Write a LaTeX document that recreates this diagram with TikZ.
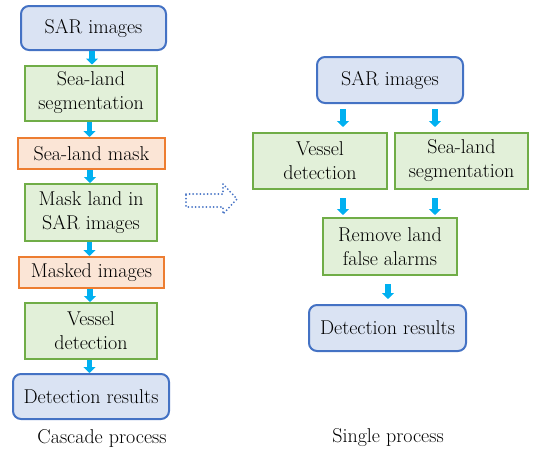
\documentclass[tikz,border=0pt]{standalone}
\usetikzlibrary{arrows.meta,calc}
\definecolor{bfill}{HTML}{DAE3F3}
\definecolor{bline}{HTML}{4472C4}
\definecolor{gfill}{HTML}{E2F0D9}
\definecolor{gline}{HTML}{70AD47}
\definecolor{ofill}{HTML}{FBE5D6}
\definecolor{oline}{HTML}{ED7D31}
\definecolor{arrcol}{HTML}{00B0F0}
\tikzset{
  box/.style={draw, line width=2pt, inner sep=0pt, align=center,
    font=\fontsize{20}{24}\selectfont, text=black},
  ends/.style={box, fill=bfill, draw=bline, rounded corners=8pt},
  stepbox/.style={box, fill=gfill, draw=gline},
  databox/.style={box, fill=ofill, draw=oline},
  flow/.style={draw=arrcol, line width=5.5pt,
    -{Triangle[width=12pt,length=6pt,fill=arrcol]}},
  caption/.style={font=\fontsize{20}{24}\selectfont}
}
\begin{document}
\begin{tikzpicture}[x=1pt,y=-1pt]
\useasboundingbox (0,0) rectangle (536,453);

% cascade process
\node[ends, minimum width=145pt, minimum height=44pt] (sar1) at (93.5,28) {SAR images};
\node[stepbox, minimum width=132pt, minimum height=55pt] (seg1) at (91,93) {Sea-land\\segmentation};
\node[databox, minimum width=147pt, minimum height=31pt] (mask1) at (91.5,153.5) {Sea-land mask};
\node[stepbox, minimum width=132pt, minimum height=57pt] (mland) at (91,212.5) {Mask land in\\SAR images};
\node[databox, minimum width=145pt, minimum height=31pt] (masked) at (91.5,272.5) {Masked images};
\node[stepbox, minimum width=132pt, minimum height=56pt] (ves1) at (91,331) {Vessel\\detection};
\node[ends, minimum width=156pt, minimum height=45pt] (det1) at (91,396.5) {Detection results};
\node[caption] (cap1) at (102,438) {Cascade process};

\foreach \a/\b in {sar1/seg1, seg1/mask1, mask1/mland, mland/masked, masked/ves1, ves1/det1}
  \draw[flow] ([xshift=-1.5pt]\a.south) -- ([xshift=-1.5pt]\a.south |- \b.north);

% transition arrow
\draw[bline, line width=2pt, line cap=round, line join=round, dash pattern=on 0pt off 3.6pt]
  (186,194) -- (223,194) -- (223,184) -- (237,199) -- (223,214) -- (223,207) -- (186,207) -- cycle;

% single process
\node[ends, minimum width=146pt, minimum height=46pt] (sar2) at (390,80) {SAR images};
\node[stepbox, minimum width=134pt, minimum height=56pt] (ves2) at (320,161) {Vessel\\detection};
\node[stepbox, minimum width=133pt, minimum height=56pt] (seg2) at (461.5,161) {Sea-land\\segmentation};
\node[stepbox, minimum width=134pt, minimum height=57pt] (rem) at (390,246.5) {Remove land\\false alarms};
\node[ends, minimum width=157pt, minimum height=46pt] (det2) at (387.5,328) {Detection results};
\node[caption] (cap2) at (388,438) {Single process};

\draw[flow] ([xshift=-47pt,yshift=-5pt]sar2.south) -- ([xshift=-47pt,yshift=5pt]sar2.south |- ves2.north);
\draw[flow] ([xshift=45pt,yshift=-5pt]sar2.south) -- ([xshift=45pt,yshift=5pt]sar2.south |- seg2.north);
\draw[flow] ([xshift=-47pt,yshift=-8pt]sar2.south |- ves2.south) -- ([xshift=-47pt,yshift=2pt]sar2.south |- rem.north);
\draw[flow] ([xshift=45pt,yshift=-8pt]sar2.south |- seg2.south) -- ([xshift=45pt,yshift=2pt]sar2.south |- rem.north);
\draw[flow] ([xshift=-2pt,yshift=-8pt]rem.south) -- ([xshift=-2pt,yshift=5pt]rem.south |- det2.north);
\end{tikzpicture}
\end{document}
